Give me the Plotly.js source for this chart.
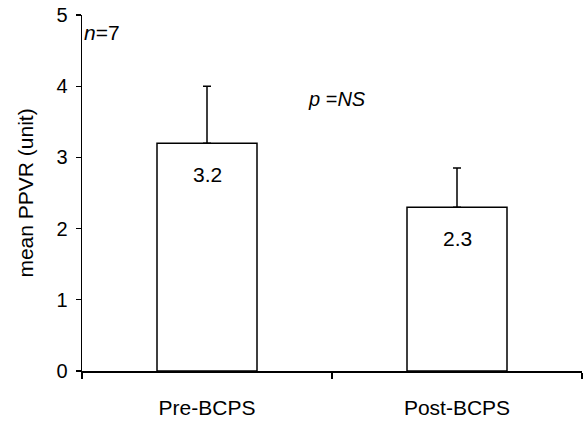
<!DOCTYPE html>
<html>
<head>
<meta charset="utf-8">
<script src="https://cdn.plot.ly/plotly-3.0.1.min.js"></script>
<style>html,body{margin:0;padding:0;background:#fff;}#chart{width:585px;height:424px;}</style>
</head>
<body>
<div id="chart"></div>
<script>
const categories = ["Pre-BCPS", "Post-BCPS"];
const meanValues = [3.2, 2.3];
const errorPlus = [0.8, 0.55];
const valueLabels = ["3.2", "2.3"];
const yTickValues = [0, 1, 2, 3, 4, 5];

const font = "Liberation Sans, Arial, sans-serif";

const trace = {
  type: "bar",
  x: categories,
  y: meanValues,
  width: 0.4,
  marker: {color: "#ffffff", line: {color: "#000000", width: 1.5}},
  error_y: {type: "data", array: errorPlus, symmetric: false, arrayminus: [0, 0],
            color: "#000000", thickness: 1.5, width: 4},
  hoverinfo: "none"
};

const annotations = categories.map((c, i) => ({
  x: c, y: meanValues[i], xref: "x", yref: "y",
  text: valueLabels[i], showarrow: false, yanchor: "middle", yshift: -31,
  font: {family: font, size: 21, color: "#000"}
}));
annotations.push({
  xref: "paper", yref: "paper", x: 0.0, y: 0.95, xanchor: "left", yanchor: "middle",
  text: "<i>n</i>=7", showarrow: false, font: {family: font, size: 21, color: "#000"}
});
annotations.push({
  xref: "paper", yref: "paper", x: 0.448, y: 0.765, xanchor: "left", yanchor: "middle",
  text: "<i>p</i> =<i>NS</i>", showarrow: false, font: {family: font, size: 20, color: "#000"}
});

const layout = {
  width: 585, height: 424,
  margin: {l: 82, r: 3, t: 15, b: 53, pad: 0},
  paper_bgcolor: "#fff", plot_bgcolor: "#fff",
  showlegend: false,
  xaxis: {
    type: "category", range: [-0.5, 1.5],
    showline: true, linecolor: "#000", linewidth: 1.5,
    ticks: "outside", tickson: "boundaries", ticklen: 6, tickwidth: 1.2, tickcolor: "#000",
    showgrid: false, zeroline: false,
    ticklabelstandoff: 17,
    tickfont: {family: font, size: 21, color: "#000"}
  },
  yaxis: {
    range: [0, 5], tickvals: yTickValues,
    showline: true, linecolor: "#000", linewidth: 1.5,
    ticks: "outside", ticklen: 5, tickwidth: 1.2, tickcolor: "#000",
    showgrid: false, zeroline: false,
    ticklabelstandoff: 4,
    tickfont: {family: font, size: 20, color: "#000"},
    title: {text: "mean PPVR (unit)", font: {family: font, size: 21, color: "#000"}, standoff: 17}
  },
  annotations: annotations
};

Plotly.newPlot("chart", [trace], layout, {staticPlot: true, displayModeBar: false});
</script>
</body>
</html>
